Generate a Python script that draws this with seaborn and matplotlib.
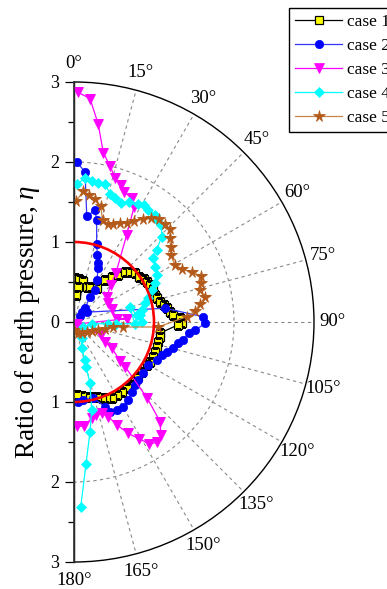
import numpy as np
import matplotlib
matplotlib.use("Agg")
import matplotlib.pyplot as plt
import seaborn as sns
from matplotlib.path import Path
from matplotlib.patches import PathPatch
from matplotlib.ticker import FixedLocator, MultipleLocator

plt.rcParams['font.family'] = ['Liberation Serif', 'DejaVu Serif']
plt.rcParams['mathtext.fontset'] = 'custom'
plt.rcParams['mathtext.it'] = 'Liberation Serif:italic'
plt.rcParams['mathtext.rm'] = 'Liberation Serif'

# ---------------- data (theta in degrees, r = ratio of earth pressure) ----------------
theta1 = [1.5, 7.0, 12.8, 6.0, 4.0, 19.8, 24.4, 34.0, 36.4, 39.8, 42.9, 45.4, 48.1, 51.4, 55.3,
          58.4, 61.0, 64.0, 67.4, 71.6, 74.0, 76.7, 79.2, 81.6, 83.9, 86.0, 88.0, 90.7, 91.6, 97.5,
          99.7, 103.2, 106.6, 110.1, 113.6, 117.6, 120.6, 126.3, 130.4, 134.4, 138.4, 141.5, 145.6,
          149.7, 153.7, 157.0, 160.0, 163.1, 166.7, 170.4, 174.0, 177.9]
r1 = [0.55, 0.54, 0.53, 0.44, 0.34, 0.47, 0.48, 0.51, 0.65, 0.74, 0.81, 0.895, 0.94, 0.976, 0.99,
      1.02, 1.04, 1.06, 1.07, 1.07, 1.075, 1.10, 1.14, 1.17, 1.21, 1.24, 1.32, 1.35, 1.30, 1.08,
      1.09, 1.08, 1.08, 1.08, 1.08, 1.07, 1.06, 1.05, 1.055, 1.07, 1.05, 1.06, 1.056,
      1.057, 1.06, 1.03, 1.01, 0.976, 0.96, 0.947, 0.93, 0.91]

theta2 = [1.0, 4.2, 6.9, 10.6, 12.5, 16.1, 19.2, 22.0, 24.3, 28.4, 33.3, 32.3, 38.8, 36.8, 45.0,
          52.0, 81.4, 87.7, 90.6, 93.8, 95.6, 99.4, 101.5, 104.8, 107.8, 110.6, 114.7, 120.0, 126.5,
          132.0, 136.0, 140.4, 145.2, 149.8, 154.1, 158.1, 159.9, 165.8, 173.2, 176.9]
r2 = [2.0, 1.88, 1.33, 1.42, 1.31, 1.02, 0.89, 0.79, 0.74, 0.60, 0.48, 0.37, 0.22, 0.16, 0.106,
      0.2, 1.15, 1.62, 1.64, 1.52, 1.44, 1.38, 1.33, 1.28, 1.22, 1.17, 1.14, 1.07, 1.08,
      1.08, 1.10, 1.13, 1.19, 1.23, 1.22, 1.21, 1.13, 0.98, 0.98, 1.0]

theta3 = [1.07, 4.1, 7.0, 9.8, 13.0, 15.9, 18.8, 21.2, 24.9, 27.6, 31.2, 40.4, 44.8, 52.3, 61.4,
          70.6, 85.6, 86.4, 120.0, 115.6, 122.8, 124.6, 130.0, 131.2, 136.1, 139.2, 142.5, 145.3,
          148.3, 150.8, 154.0, 157.2, 160.1, 163.1, 166.7, 169.6, 174.5, 178.2]
r3 = [2.87, 2.80, 2.49, 2.15, 2.00, 1.875, 1.81, 1.74, 1.71, 1.62, 1.27, 0.81, 0.65, 0.52, 0.49,
      0.50, 0.535, 0.66, 0.05, 0.38, 0.46, 0.57, 0.75, 0.85, 1.32, 1.65, 1.78, 1.83,
      1.79, 1.675, 1.55, 1.40, 1.26, 1.19, 1.195, 1.22, 1.31, 1.30]

theta4 = [1.1, 4.4, 7.1, 9.9, 12.8, 15.7, 18.3, 21.5, 24.6, 28.4, 30.9, 33.6, 37.1, 39.1, 42.1,
          45.8, 48.9, 51.2, 55.7, 60.4, 64.5, 67.6, 72.3, 75.2, 80.0, 83.9, 90.0, 84.0, 75.0, 91.6,
          92.3, 92.8, 95.5, 116.8, 154.7, 163.7, 163.9, 165.0, 165.4, 168.6, 171.7, 175.2, 177.9]
r4 = [1.72, 1.805, 1.78, 1.77, 1.77, 1.66, 1.63, 1.595, 1.65, 1.67, 1.70, 1.68, 1.68, 1.64, 1.63,
      1.53, 1.37, 1.27, 1.23, 1.19, 1.12, 1.05, 0.975, 0.92, 0.86, 0.83, 0.846, 0.79, 0.725, 0.76,
      0.53, 0.43, 0.22, 0.13, 0.225, 0.34, 0.49, 0.58, 0.79, 1.12, 1.386, 1.785, 2.31]

theta5 = [0.9, 4.1, 6.9, 9.7, 12.9, 15.7, 19.0, 21.9, 25.0, 27.9, 30.7, 33.8, 36.5, 39.6, 43.0,
          45.9, 48.9, 52.1, 55.3, 60.3, 64.0, 66.9, 70.0, 73.0, 75.8, 79.1, 81.9, 84.8, 87.3, 93.4,
          95.8, 97.0, 102.7, 108.0, 116.6, 127.6, 144.0, 160.0, 174.0, 178.0]
r5 = [1.51, 1.64, 1.60, 1.56, 1.49, 1.32, 1.29, 1.32, 1.36, 1.405, 1.47, 1.545, 1.61, 1.67, 1.67,
      1.67, 1.59, 1.53, 1.47, 1.45, 1.50, 1.60, 1.685, 1.66, 1.63, 1.67, 1.59, 1.52, 1.41, 1.055,
      0.62, 0.49, 0.40, 0.32, 0.25, 0.205, 0.17, 0.146, 0.126, 0.10]

labels = ['case 1', 'case 2', 'case 3', 'case 4', 'case 5']
ref_theta = [0, 180]
ref_r = [1, 1]

theta_ticks = list(range(0, 181, 15))
r_tick_values = [-3, -2, -1, 0, 1, 2, 3]
r_tick_labels = ['3', '2', '1', '0', '1', '2', '3']

# ---------------- figure ----------------
W, H = 387, 589
fig = plt.figure(figsize=(W / 100, H / 100), dpi=100)
cx, cy, R = 74, 322, 240
ax = fig.add_axes([(cx - R / 2) / W, (H - cy - R) / H, 2 * R / W, 2 * R / H],
                  projection='polar')
ax.set_theta_zero_location('N')
ax.set_theta_direction(-1)

styles = [
    dict(color='black', marker='s', markerfacecolor='#ffff00', markeredgecolor='black',
         markersize=6.0, markeredgewidth=0.9),
    dict(color='#3434ff', marker='o', markerfacecolor='#0000ff', markeredgecolor='#0000ff',
         markersize=6.0, markeredgewidth=0.5),
    dict(color='#ff00ff', marker='v', markerfacecolor='#ff00ff', markeredgecolor='#ff00ff',
         markersize=7.5, markeredgewidth=0.5),
    dict(color='#00ffff', marker='D', markerfacecolor='#00ffff', markeredgecolor='#00ffff',
         markersize=5.5, markeredgewidth=0.5),
    dict(color='#c88448', marker='*', markerfacecolor='#b35a1a', markeredgecolor='#b35a1a',
         markersize=8.5, markeredgewidth=0.5),
]
data = [(theta1, r1), (theta2, r2), (theta3, r3), (theta4, r4), (theta5, r5)]
for (th, rr), lab, st in zip(data, labels, styles):
    sns.lineplot(x=np.deg2rad(th), y=np.asarray(rr, dtype=float), ax=ax, sort=False,
                 estimator=None, label=lab, linewidth=0.9, zorder=3, **st)
if ax.get_legend() is not None:
    ax.get_legend().remove()

# reference circle r = 1
ref_path = Path(np.column_stack([np.deg2rad(ref_theta), ref_r]), _interpolation_steps=180)
ax.add_patch(PathPatch(ref_path, fill=False, edgecolor='#ff0000', linewidth=1.9, zorder=6))

ax.set_thetamin(0)
ax.set_thetamax(180)
ax.set_ylim(0, 3)
ax.set_xlabel('')
ax.set_ylabel('')

ax.set_xticks(np.deg2rad(theta_ticks))
ax.set_xticklabels([f'{d}°' for d in theta_ticks], fontsize=13.5)
ax.xaxis.set_minor_locator(FixedLocator(np.deg2rad(np.arange(7.5, 180, 15))))
ax.tick_params(axis='x', which='major', direction='in', length=7, width=0.9, pad=6)
ax.tick_params(axis='x', which='minor', direction='in', length=4, width=0.9)
ax.set_yticks([1, 2])
ax.set_yticklabels([])
ax.tick_params(axis='y', length=0)
ax.grid(True, color='#8a8a8a', linestyle=(0, (3, 3)), linewidth=0.8)
for name in ['polar', 'start', 'end']:
    ax.spines[name].set_color('black')
    ax.spines[name].set_linewidth(1.0)

# left radial scale axis
ax2 = fig.add_axes([cx / W, (H - cy - R) / H, R / W, 2 * R / H])
ax2.patch.set_visible(False)
ax2.set_ylim(-3, 3)
ax2.set_xlim(0, 1)
for s in ['top', 'right', 'bottom']:
    ax2.spines[s].set_visible(False)
ax2.spines['left'].set_color('#333333')
ax2.spines['left'].set_linewidth(1.2)
ax2.set_xticks([])
ax2.set_yticks(r_tick_values)
ax2.set_yticklabels(r_tick_labels, fontsize=13)
ax2.yaxis.set_minor_locator(MultipleLocator(0.5))
ax2.tick_params(axis='y', which='major', direction='out', length=6.5, width=0.9, pad=4)
ax2.tick_params(axis='y', which='minor', direction='out', length=4, width=0.9)
ax2.set_ylabel('Ratio of earth pressure, $\\eta$', fontsize=19.5, labelpad=6)

handles, labs = ax.get_legend_handles_labels()
leg = fig.legend(handles, labs, loc='upper left', bbox_to_anchor=(289 / W, 1 - 8 / H),
                 frameon=True, fancybox=False, edgecolor='black', framealpha=1,
                 fontsize=12.5, handlelength=2.7, handletextpad=0.3, borderpad=0.35,
                 labelspacing=0.45, borderaxespad=0)
leg.get_frame().set_linewidth(1.0)

fig.savefig('out.png', dpi=100)
